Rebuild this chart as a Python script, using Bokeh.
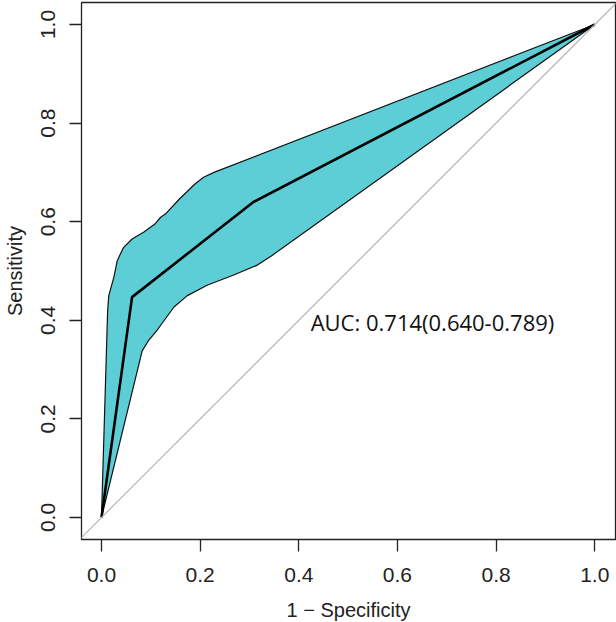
from bokeh.plotting import figure
from bokeh.models import Range1d, Slope, Label, FixedTicker
from bokeh.embed import file_html
from bokeh.resources import INLINE

# ROC curve (1 - specificity, sensitivity)
roc_fpr = [0.0, 0.062, 0.308, 1.0]
roc_tpr = [0.0, 0.447, 0.640, 1.0]

# confidence band of sensitivity: upper and lower boundaries
upper_fpr = [0.0, 0.0125, 0.0148, 0.025, 0.032, 0.0385, 0.045, 0.062, 0.086,
             0.109, 0.12, 0.13, 0.158, 0.19, 0.207, 0.228, 1.0]
upper_tpr = [0.0, 0.42, 0.45, 0.487, 0.521, 0.535, 0.548, 0.565, 0.579,
             0.596, 0.609, 0.616, 0.646, 0.677, 0.690, 0.700, 1.0]
lower_fpr = [0.0, 0.0825, 0.096, 0.113, 0.12, 0.147, 0.174, 0.214, 0.268,
             0.316, 0.345, 1.0]
lower_tpr = [0.0, 0.338, 0.36, 0.38, 0.39, 0.427, 0.45, 0.471, 0.492,
             0.512, 0.531, 1.0]

ticks = [0.0, 0.2, 0.4, 0.6, 0.8, 1.0]
tick_labels = {0.0: "0.0", 0.2: "0.2", 0.4: "0.4", 0.6: "0.6", 0.8: "0.8", 1.0: "1.0"}
x_title = "1 \u2212 Specificity"
y_title = "Sensitivity"
auc_text = "AUC: 0.714(0.640-0.789)"

p = figure(frame_width=534, frame_height=537, output_backend="svg",
           toolbar_location=None,
           x_range=Range1d(-0.0405, 1.042), y_range=Range1d(-0.0446, 1.0446),
           min_border_left=81, min_border_right=1, min_border_top=2,
           min_border_bottom=83)
p.background_fill_color = "white"
p.border_fill_color = "white"
p.xgrid.visible = False
p.ygrid.visible = False
p.outline_line_color = "#222222"
p.outline_line_width = 1.3
p.outline_line_alpha = 1.0

band_x = upper_fpr + lower_fpr[::-1]
band_y = upper_tpr + lower_tpr[::-1]
p.patch(band_x, band_y, fill_color="#5dced5", line_color="#111111", line_width=1.2)

p.add_layout(Slope(gradient=1, y_intercept=0, line_color="#b5b5b5", line_width=1.2))

p.line(roc_fpr, roc_tpr, line_color="black", line_width=2.6)

p.add_layout(Label(x=0.424, y=0.396, text=auc_text, text_align="left",
                   text_baseline="middle", text_font="Open Sans",
                   text_font_size="22px", text_color="#111111"))

for ax in (p.xaxis[0], p.yaxis[0]):
    ax.ticker = FixedTicker(ticks=ticks)
    ax.major_label_overrides = tick_labels
    ax.major_tick_out = 12
    ax.major_tick_in = 0
    ax.minor_tick_out = 0
    ax.minor_tick_in = 0
    ax.major_tick_line_color = "#222222"
    ax.major_tick_line_width = 1.3
    ax.axis_line_color = None
    ax.major_label_text_font = "Liberation Sans"
    ax.major_label_text_font_size = "21px"
    ax.major_label_text_color = "#222222"
    ax.axis_label_text_font = "Liberation Sans"
    ax.axis_label_text_font_size = "20px"
    ax.axis_label_text_font_style = "normal"
    ax.axis_label_text_color = "#222222"

p.xaxis.axis_label = x_title
p.yaxis.axis_label = y_title
p.yaxis.major_label_orientation = "vertical"
p.xaxis.major_label_standoff = 16
p.xaxis.axis_label_standoff = 14
p.yaxis.major_label_standoff = 14
p.yaxis.axis_label_standoff = 13

open("out.html", "w").write(file_html(p, INLINE))
